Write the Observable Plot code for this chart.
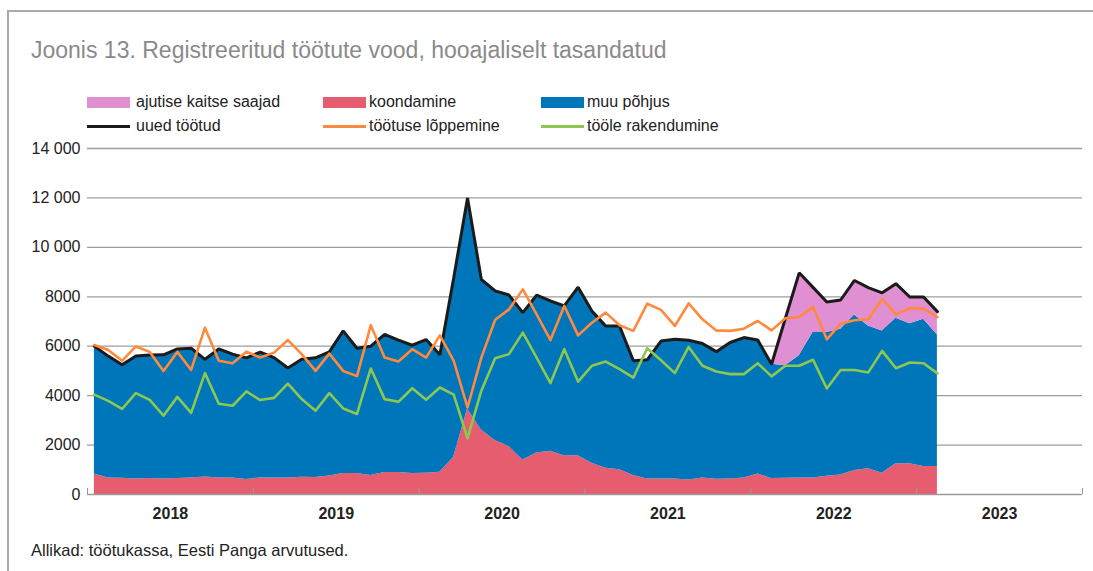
<!DOCTYPE html>
<html>
<head>
<meta charset="utf-8">
<script src="https://cdn.jsdelivr.net/npm/d3@7"></script>
<script src="https://cdn.jsdelivr.net/npm/@observablehq/plot@0.6"></script>
<style>
  html, body { margin: 0; padding: 0; background: #fff; }
  body { font-family: "Liberation Sans", Arial, Helvetica, sans-serif; }
  #wrap { position: relative; width: 1093px; height: 571px; overflow: hidden; }
  .bt { position: absolute; left: 7px; top: 10px; width: 1086px; height: 1.5px; background: #ababab; }
  .bl { position: absolute; left: 7px; top: 10px; width: 1.5px; height: 561px; background: #ababab; }
  #title { position: absolute; left: 31px; top: 37px; font-size: 23px; color: #8a8a8a; white-space: nowrap; }
  .li { position: absolute; font-size: 16px; color: #222; white-space: nowrap; line-height: 18px; }
  .sw { position: absolute; }
  #chart { position: absolute; left: 0; top: 130px; }
  #caption { position: absolute; left: 31px; top: 541px; font-size: 16.5px; color: #222; white-space: nowrap; }
</style>
</head>
<body>
<div id="wrap">
  <div class="bt"></div>
  <div class="bl"></div>
  <div id="title">Joonis 13. Registreeritud töötute vood, hooajaliselt tasandatud</div>
  <div id="legend"></div>
  <div id="chart"></div>
  <div id="caption">Allikad: töötukassa, Eesti Panga arvutused.</div>
</div>
<script>
// Months: January 2018 .. February 2023 (62 monthly observations)
const months = [];
for (let y = 2018; y <= 2023; y++) for (let m = 1; m <= 12; m++) months.push(`${y}-${String(m).padStart(2, "0")}`);
months.length = 62;

const yearLabels = ["2018", "2019", "2020", "2021", "2022", "2023"];
const yTicks = [0, 2000, 4000, 6000, 8000, 10000, 12000, 14000];

// koondamine (redundancy)
const koondamine = [830, 670, 660, 630, 645, 630, 645, 670, 710, 670, 670, 605, 670, 670, 670, 700, 685, 750, 850, 850,
  770, 890, 890, 850, 860, 900, 1510, 3460, 2610, 2180, 1940, 1400, 1680, 1750, 1570, 1570, 1260, 1060, 1000, 770,
  630, 630, 630, 590, 670, 620, 630, 670, 830, 650, 660, 670, 670, 740, 790, 970, 1040, 860, 1240, 1240, 1130, 1130];

// muu põhjus (other reason)
const muuPohjus = [5170, 4930, 4590, 4970, 4995, 5020, 5245, 5250, 4760, 5220, 5010, 4925, 5090, 4870, 4450, 4770, 4845, 5020, 5770, 5070,
  5230, 5590, 5360, 5190, 5410, 4750, 7260, 8540, 6090, 6060, 6130, 5960, 6390, 6080, 6060, 6820, 6160, 5760, 5820, 4640,
  4820, 5580, 5650, 5650, 5440, 5160, 5520, 5680, 5420, 4620, 4545, 4940, 5880, 5810, 5895, 6293, 5779, 5757, 5889, 5673, 5958, 5326];

// ajutise kaitse saajad (temporary protection recipients)
const ajutiseKaitse = [0, 0, 0, 0, 0, 0, 0, 0, 0, 0, 0, 0, 0, 0, 0, 0, 0, 0, 0, 0,
  0, 0, 0, 0, 0, 0, 0, 0, 0, 0, 0, 0, 0, 0, 0, 0, 0, 0, 0, 0,
  0, 0, 0, 0, 0, 0, 0, 0, 0, 0, 1925, 3360, 1830, 1240, 1180, 1400, 1550, 1550, 1400, 1080, 900, 940];

// uued töötud (new unemployed)
const uuedTootud = [6000, 5600, 5250, 5600, 5640, 5650, 5890, 5920, 5470, 5890, 5680, 5530, 5760, 5540, 5120, 5470, 5530, 5770, 6620, 5920,
  6000, 6480, 6250, 6040, 6270, 5650, 8770, 12000, 8700, 8240, 8070, 7360, 8070, 7830, 7630, 8390, 7420, 6820, 6820, 5410,
  5450, 6210, 6280, 6240, 6110, 5780, 6150, 6350, 6250, 5270, 7130, 8970, 8380, 7790, 7870, 8660, 8370, 8160, 8530, 7990, 7990, 7400];

// töötuse lõppemine (end of unemployment)
const tootuseLoppemine = [6050, 5850, 5410, 5990, 5770, 5000, 5770, 5040, 6750, 5410, 5310, 5780, 5540, 5740, 6250, 5680, 5000, 5700, 5000, 4790,
  6850, 5540, 5380, 5880, 5540, 6440, 5410, 3520, 5540, 7070, 7490, 8300, 7290, 6250, 7630, 6440, 6950, 7360, 6850, 6620,
  7720, 7470, 6820, 7730, 7090, 6640, 6620, 6710, 7020, 6640, 7130, 7180, 7590, 6280, 6910, 7050, 7090, 7920, 7290, 7530, 7520, 7180];

// tööle rakendumine (finding employment)
const tooleRakendumine = [4040, 3790, 3460, 4100, 3830, 3190, 3950, 3300, 4910, 3670, 3590, 4170, 3820, 3910, 4490, 3860, 3390, 4100, 3480, 3260,
  5100, 3860, 3750, 4300, 3830, 4330, 4040, 2270, 4200, 5510, 5680, 6550, 5540, 4510, 5880, 4570, 5210, 5380, 5070, 4730,
  5920, 5430, 4910, 5970, 5210, 4980, 4870, 4870, 5310, 4780, 5210, 5210, 5450, 4290, 5040, 5040, 4940, 5810, 5110, 5340, 5310, 4900];

const C = {
  pink: "#df8fd2",
  red: "#e65d70",
  blue: "#0076ba",
  black: "#1b1b1b",
  orange: "#ff8a3d",
  green: "#8cc84f"
};

const stackSeries = ["koondamine", "muu põhjus", "ajutise kaitse saajad"];
const stackValues = [koondamine, muuPohjus, ajutiseKaitse];
const stackColors = [C.red, C.blue, C.pink];

const areaData = [];
months.forEach((m, i) => {
  stackSeries.forEach((s, k) => areaData.push({ x: i + 0.5, series: s, value: stackValues[k][i] }));
});
const lineOf = (arr) => months.map((m, i) => ({ x: i + 0.5, value: arr[i] }));

const yearBounds = d3.range(0, 73, 12);
const yearMids = d3.range(6, 72, 12);

const fmtY = (d) => d >= 10000 ? `${Math.floor(d / 1000)} ${String(d % 1000).padStart(3, "0")}` : String(d);

const chart = Plot.plot({
  width: 1093,
  height: 400,
  marginTop: 18,
  marginBottom: 36,
  marginLeft: 87,
  marginRight: 11,
  style: { fontFamily: "'Liberation Sans', Arial, Helvetica, sans-serif", color: "#222", background: "transparent" },
  x: { type: "linear", domain: [0, 72], axis: null },
  y: { domain: [0, 14000], axis: null },
  color: { domain: stackSeries, range: stackColors },
  marks: [
    Plot.ruleY(yTicks.filter(d => d > 0), { stroke: "#9d9d9d", strokeWidth: 1.3 }),
    Plot.areaY(areaData, { x: "x", y: "value", z: "series", fill: "series", order: stackSeries, curve: "linear" }),
    Plot.lineY(lineOf(uuedTootud), { x: "x", y: "value", stroke: C.black, strokeWidth: 3, strokeLinejoin: "miter" }),
    Plot.lineY(lineOf(tootuseLoppemine), { x: "x", y: "value", stroke: C.orange, strokeWidth: 2.6 }),
    Plot.lineY(lineOf(tooleRakendumine), { x: "x", y: "value", stroke: C.green, strokeWidth: 2.6 }),
    Plot.ruleY([0], { stroke: "#9a9a9a", strokeWidth: 1.6 }),
    Plot.ruleX(yearBounds, { y1: 0, y2: 240, stroke: "#9a9a9a", strokeWidth: 1 }),
    Plot.axisY({ ticks: yTicks, tickSize: 0, tickPadding: 7, tickFormat: fmtY, fontSize: 16, fill: "#222", label: null }),
    Plot.text(yearMids, { x: d => d, y: 0, text: (d, i) => yearLabels[i], dy: 19, fontSize: 16, fontWeight: "bold", fill: "#222", lineAnchor: "middle" })
  ]
});
document.getElementById("chart").appendChild(chart);

// Legend
const legendItems = [
  { label: "ajutise kaitse saajad", type: "area", color: C.pink, col: 0, row: 0 },
  { label: "koondamine", type: "area", color: C.red, col: 1, row: 0 },
  { label: "muu põhjus", type: "area", color: C.blue, col: 2, row: 0 },
  { label: "uued töötud", type: "line", color: C.black, col: 0, row: 1 },
  { label: "töötuse lõppemine", type: "line", color: C.orange, col: 1, row: 1 },
  { label: "tööle rakendumine", type: "line", color: C.green, col: 2, row: 1 }
];
const colSw = [87, 323, 541];
const colTx = [136, 369, 587];
const rowY = [102, 126];
const legend = document.getElementById("legend");
legendItems.forEach(it => {
  const sw = document.createElement("div");
  sw.className = "sw";
  const h = it.type === "area" ? 11 : 3;
  sw.style.left = colSw[it.col] + "px";
  sw.style.width = "43px";
  sw.style.height = h + "px";
  sw.style.top = (rowY[it.row] - h / 2) + "px";
  sw.style.background = it.color;
  legend.appendChild(sw);
  const tx = document.createElement("div");
  tx.className = "li";
  tx.textContent = it.label;
  tx.style.left = colTx[it.col] + "px";
  tx.style.top = (rowY[it.row] - 9) + "px";
  legend.appendChild(tx);
});
</script>
</body>
</html>
